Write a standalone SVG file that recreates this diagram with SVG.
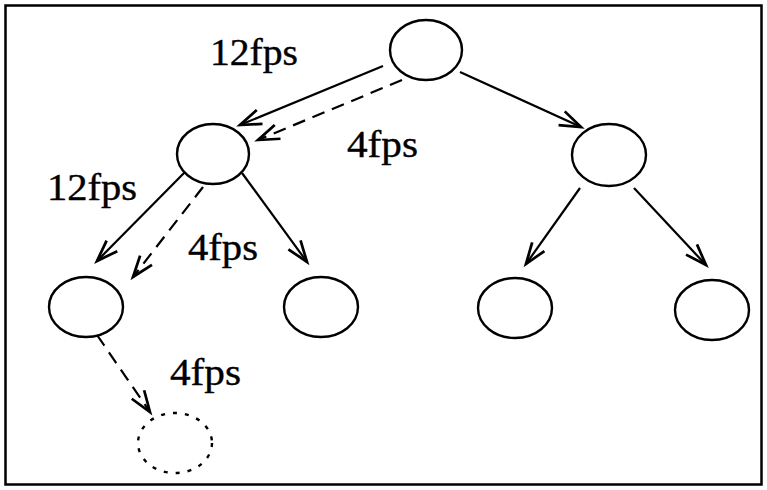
<svg xmlns="http://www.w3.org/2000/svg" width="767" height="490" viewBox="0 0 767 490">
<style>
.n{fill:none;stroke:#000;stroke-width:2.4}
.d{fill:none;stroke:#000;stroke-width:2.4;stroke-dasharray:4 8}
.e{fill:none;stroke:#000;stroke-width:2.2}
.ed{fill:none;stroke:#000;stroke-width:2.2;stroke-dasharray:13 8}
.t{font-family:"Liberation Serif","Times New Roman",serif;font-size:38px;fill:#000;stroke:#000;stroke-width:0.4}
</style>
<defs>
<marker id="a" markerUnits="userSpaceOnUse" markerWidth="30" markerHeight="30" viewBox="-20 -10 24 20" refX="0" refY="0" orient="auto">
<path d="M-17 -6 L0 0 L-17 6" fill="none" stroke="#000" stroke-width="2.2"/>
</marker>
</defs>
<rect x="5.5" y="5.5" width="756" height="479" fill="#fff" stroke="#000" stroke-width="2.5"/>
<g id="connectors">
<line class="e" x1="383" y1="66" x2="240" y2="125" marker-end="url(#a)"/>
<line class="ed" x1="402" y1="80" x2="258" y2="140" marker-end="url(#a)"/>
<line class="e" x1="460" y1="72" x2="581" y2="127" marker-end="url(#a)"/>
<line class="e" x1="185" y1="172" x2="97" y2="261" marker-end="url(#a)"/>
<line class="ed" x1="203" y1="187" x2="133" y2="277" marker-end="url(#a)"/>
<line class="e" x1="242" y1="173" x2="307" y2="262" marker-end="url(#a)"/>
<line class="e" x1="580" y1="188" x2="526" y2="264" marker-end="url(#a)"/>
<line class="e" x1="634" y1="188" x2="706" y2="265" marker-end="url(#a)"/>
<line class="ed" x1="97" y1="335" x2="150" y2="412" marker-end="url(#a)"/>
</g>
<g id="root"><ellipse class="n" cx="426" cy="50" rx="36" ry="30"/></g>
<g id="l2a"><ellipse class="n" cx="213" cy="154" rx="36" ry="30"/></g>
<g id="l2b"><ellipse class="n" cx="609" cy="155" rx="37" ry="31"/></g>
<g id="l3a"><ellipse class="n" cx="86" cy="307" rx="37" ry="30"/></g>
<g id="l3b"><ellipse class="n" cx="321" cy="307" rx="37" ry="30"/></g>
<g id="l3c"><ellipse class="n" cx="515" cy="308" rx="37" ry="30"/></g>
<g id="l3d"><ellipse class="n" cx="712" cy="310" rx="37" ry="30"/></g>
<g id="l4"><ellipse class="d" cx="175" cy="443" rx="37" ry="30"/></g>
<g id="labels">
<text class="t" x="210" y="65" textLength="88" lengthAdjust="spacingAndGlyphs">12fps</text>
<text class="t" x="347" y="157" textLength="71" lengthAdjust="spacingAndGlyphs">4fps</text>
<text class="t" x="47" y="200" textLength="90" lengthAdjust="spacingAndGlyphs">12fps</text>
<text class="t" x="188" y="260" textLength="70" lengthAdjust="spacingAndGlyphs">4fps</text>
<text class="t" x="170" y="385" textLength="71" lengthAdjust="spacingAndGlyphs">4fps</text>
</g>
</svg>
